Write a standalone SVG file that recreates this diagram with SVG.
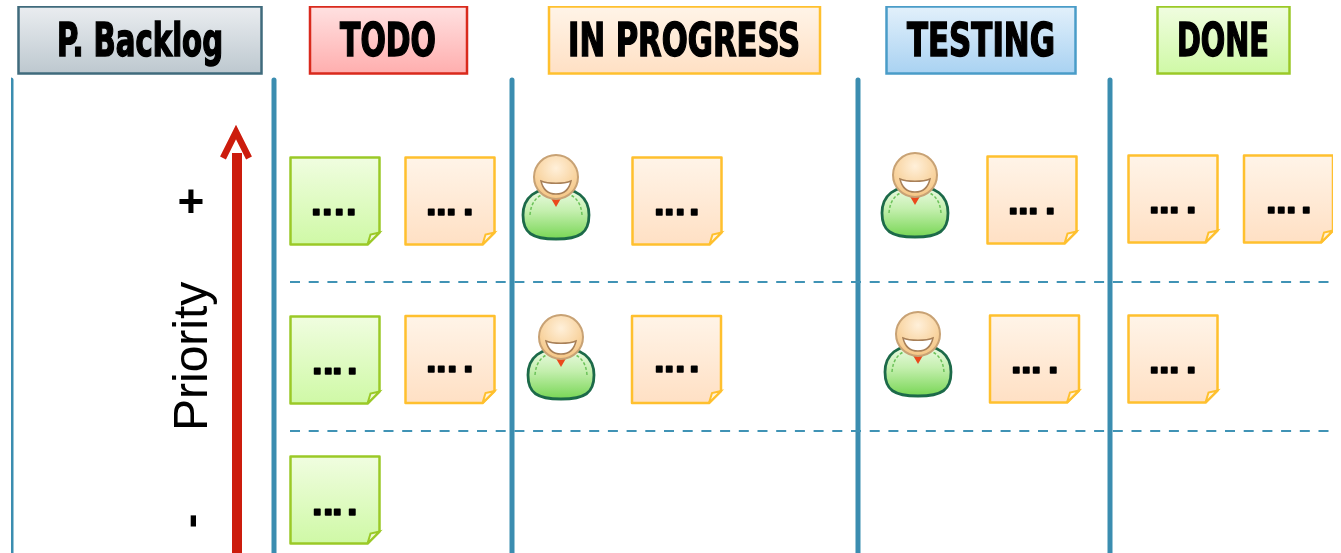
<svg xmlns="http://www.w3.org/2000/svg" width="1341" height="553" viewBox="0 0 1341 553">
<style>
.hd{stroke-width:2.500}
.ht{font-family:"DejaVu Sans Condensed","DejaVu Sans",sans-serif;font-weight:700;font-size:46px;fill:#000;stroke:#000;stroke-width:1.500;text-anchor:middle}
.col{stroke:#3a8db0;stroke-width:5;stroke-linecap:round;fill:none}
.dash{stroke:#3f93b5;stroke-width:2.200;stroke-dasharray:10 8.700;fill:none}
.dots{font-family:"Liberation Sans",Arial,sans-serif;font-weight:700;font-size:38px;fill:#000;stroke:#000;stroke-width:1.600;stroke-linejoin:round}
.sym{font-family:"Liberation Sans",Arial,sans-serif;font-weight:700;fill:#000}
</style>
<defs>
<filter id="soft" x="0" y="0" width="100%" height="100%"><feGaussianBlur stdDeviation="0.6"/></filter>
<linearGradient id="gGrey" x1="0" y1="0" x2="0" y2="1"><stop offset="0" stop-color="#eaedf0"/><stop offset="1" stop-color="#bdc8cf"/></linearGradient>
<linearGradient id="gRed" x1="0" y1="0" x2="0" y2="1"><stop offset="0" stop-color="#ffe1e1"/><stop offset="1" stop-color="#ffaeae"/></linearGradient>
<linearGradient id="gOrange" x1="0" y1="0" x2="0" y2="1"><stop offset="0" stop-color="#fff4e8"/><stop offset="1" stop-color="#ffe0c4"/></linearGradient>
<linearGradient id="gBlue" x1="0" y1="0" x2="0" y2="1"><stop offset="0" stop-color="#e2f0fb"/><stop offset="1" stop-color="#a9d2f2"/></linearGradient>
<linearGradient id="gGreen" x1="0" y1="0" x2="0" y2="1"><stop offset="0" stop-color="#f0fde0"/><stop offset="1" stop-color="#cff9a6"/></linearGradient>
<linearGradient id="gBody" x1="0" y1="0" x2="0" y2="1"><stop offset="0" stop-color="#eefbe6"/><stop offset=".45" stop-color="#c4efae"/><stop offset="1" stop-color="#78d655"/></linearGradient>
<radialGradient id="gHead" cx=".5" cy=".3" r=".7"><stop offset="0" stop-color="#fff0da"/><stop offset="1" stop-color="#f5c684"/></radialGradient>
<symbol id="noteG" overflow="visible"><path d="M1 1H90V76L78 88H1Z" fill="url(#gGreen)" stroke="#9bc928" stroke-width="2.500" stroke-linejoin="round"/><path d="M78 88L81 78L90 76Z" fill="#eef8d8" stroke="#9bc928" stroke-width="2"/></symbol>
<symbol id="noteO" overflow="visible"><path d="M1 1H90V76L78 88H1Z" fill="url(#gOrange)" stroke="#ffc02e" stroke-width="2.500" stroke-linejoin="round"/><path d="M78 88L81 78L90 76Z" fill="#fff4e0" stroke="#ffc02e" stroke-width="2"/></symbol>
<symbol id="person" overflow="visible">
<path d="M1 60C1 42 14 33 34 33S67 42 67 60C67 78 58 84 34 84S1 78 1 60Z" fill="url(#gBody)" stroke="#1f6b4a" stroke-width="2.800"/>
<path d="M8 60C9 47 15 41 24 38M60 60C59 47 53 41 44 38" fill="none" stroke="#6cc25a" stroke-width="1.500" stroke-dasharray="3 2"/>
<path d="M27 40L41 40L34 52Z" fill="#ea4a1c"/>
<circle cx="34" cy="22" r="22" fill="url(#gHead)" stroke="#c8a274" stroke-width="2"/>
<path d="M19 26C26 29 42 29 49 26C47 35 41 39 34 39S21 35 19 26Z" fill="#fff" stroke="#a88058" stroke-width="1.500"/>
</symbol>
</defs>
<rect width="1341" height="553" fill="#fff"/>
<g filter="url(#soft)">
<g id="connectors">
<path class="col" d="M11 80V553M274 80V553M512 80V553M858 80V553M1110 80V553"/>
<path class="dash" d="M290 282H1330M290 431H1330"/>
</g>
<g id="header-backlog"><rect class="hd" x="18.500" y="6.500" width="243" height="67" fill="url(#gGrey)" stroke="#3f6b7c"/><text class="ht" x="140" y="56" textLength="166" lengthAdjust="spacingAndGlyphs">P. Backlog</text></g>
<g id="header-todo"><rect class="hd" x="310" y="6.500" width="157" height="67" fill="url(#gRed)" stroke="#d9291c"/><text class="ht" x="388" y="56" textLength="96" lengthAdjust="spacingAndGlyphs">TODO</text></g>
<g id="header-inprogress"><rect class="hd" x="549" y="6.500" width="271" height="67" fill="url(#gOrange)" stroke="#ffc02e"/><text class="ht" x="684" y="56" textLength="232" lengthAdjust="spacingAndGlyphs">IN PROGRESS</text></g>
<g id="header-testing"><rect class="hd" x="886.500" y="6.500" width="189" height="67" fill="url(#gBlue)" stroke="#4a9cc8"/><text class="ht" x="981" y="56" textLength="148" lengthAdjust="spacingAndGlyphs">TESTING</text></g>
<g id="header-done"><rect class="hd" x="1157.500" y="6.500" width="132" height="67" fill="url(#gGreen)" stroke="#9bc928"/><text class="ht" x="1223" y="56" textLength="92" lengthAdjust="spacingAndGlyphs">DONE</text></g>
<g id="priority">
<path d="M232 153H242V553H232Z" fill="#cc1c0a"/>
<path d="M223 158L236 132L249 158" fill="none" stroke="#cc1c0a" stroke-width="6.500"/>
<text transform="translate(207 431) rotate(-90)" font-family="'Liberation Sans',Arial,sans-serif" font-size="48" fill="#000">Priority</text>
<text class="sym" x="191" y="217" font-size="46" text-anchor="middle">+</text>
<text class="sym" transform="translate(205 521) rotate(-90)" font-size="44" text-anchor="middle">-</text>
</g>
<g id="note-todo-1"><use href="#noteG" x="289.500" y="156.500"/><text class="dots" x="311 322 334 346" y="215">....</text></g>
<g id="note-todo-2"><use href="#noteO" x="404.500" y="156.500"/><text class="dots" x="426 436 446 463" y="215">....</text></g>
<g id="note-todo-3"><use href="#noteG" x="289.500" y="315.500"/><text class="dots" x="312 323 332 347" y="374">....</text></g>
<g id="note-todo-4"><use href="#noteO" x="404.500" y="315"/><text class="dots" x="426 436 447 463" y="372">....</text></g>
<g id="note-todo-5"><use href="#noteG" x="289.500" y="455.500"/><text class="dots" x="312 323 332 347" y="515">....</text></g>
<g id="person-1"><use href="#person" x="522" y="155"/></g>
<g id="note-prog-1"><use href="#noteO" x="631.500" y="156.500"/><text class="dots" x="654 664 675 689" y="215">....</text></g>
<g id="person-2"><use href="#person" x="527" y="315"/></g>
<g id="note-prog-2"><use href="#noteO" x="631" y="315"/><text class="dots" x="654 664 675 689" y="372">....</text></g>
<g id="person-3"><use href="#person" x="881" y="153"/></g>
<g id="note-test-1"><use href="#noteO" x="986.500" y="155.500"/><text class="dots" x="1008 1018 1028 1045" y="214">....</text></g>
<g id="person-4"><use href="#person" x="884" y="312"/></g>
<g id="note-test-2"><use href="#noteO" x="989" y="314.500"/><text class="dots" x="1011 1021 1031 1048" y="373">....</text></g>
<g id="note-done-1"><use href="#noteO" x="1127.500" y="154.500"/><text class="dots" x="1149 1159 1169 1186" y="213">....</text></g>
<g id="note-done-2"><use href="#noteO" x="1243" y="154.500"/><text class="dots" x="1266 1276 1286 1301" y="213">....</text></g>
<g id="note-done-3"><use href="#noteO" x="1127.500" y="314.500"/><text class="dots" x="1149 1159 1169 1186" y="373">....</text></g>
</g>
</svg>
